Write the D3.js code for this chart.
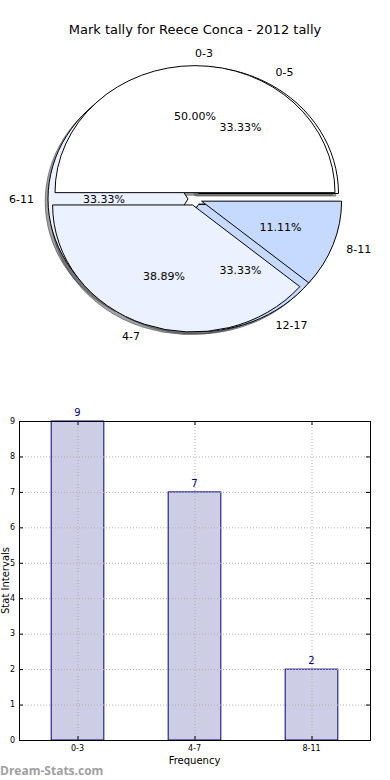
<!DOCTYPE html>
<html>
<head>
<meta charset="utf-8">
<script src="https://cdn.jsdelivr.net/npm/d3@7.9.0/dist/d3.min.js"></script>
<style>
  body { margin: 0; background: #fff; }
  svg { display: block; font-family: "DejaVu Sans", sans-serif; }
</style>
</head>
<body>
<svg width="390" height="780"></svg>
<script>
const title = 'Mark tally for Reece Conca - 2012 tally';

// pie 1 (drawn underneath)
const backLabels = ['0-5', '6-11', '12-17'];
const backValues = [1, 1, 1];
// pie 2 (drawn on top)
const frontLabels = ['0-3', '4-7', '8-11'];
const frontValues = [9, 7, 2];

const sliceColors = ['#ffffff', '#ebf1fe', '#c6daff'];

// bar chart
const barCategories = ['0-3', '4-7', '8-11'];
const barValues = [9, 7, 2];
const yTicks = [0, 1, 2, 3, 4, 5, 6, 7, 8, 9];

const svg = d3.select('svg');

svg.append('text')
  .attr('x', 195).attr('y', 34)
  .attr('text-anchor', 'middle')
  .attr('font-size', 13)
  .text(title);

// ---- pie ----
const cx = 195, cy = 199, rx = 140, ry = 127;
const explode = 0.05;

const pieGen = d3.pie().sort(null).startAngle(0).endAngle(2 * Math.PI);
const unitArc = d3.arc().innerRadius(0).outerRadius(1);

function buildSlices(labels, values) {
  return pieGen(values).map((d, i) => {
    const mid = (d.startAngle + d.endAngle) / 2;
    const ox = cx + Math.cos(mid) * explode * rx;
    const oy = cy - Math.sin(mid) * explode * ry;
    return {
      label: labels[i],
      pct: (d.value / d3.sum(values) * 100).toFixed(2) + '%',
      color: sliceColors[i],
      mid: mid,
      ox: ox, oy: oy,
      // convert ccw-from-east angles to d3's cw-from-north
      path: unitArc({ startAngle: Math.PI / 2 - d.endAngle, endAngle: Math.PI / 2 - d.startAngle })
    };
  });
}

const back = buildSlices(backLabels, backValues);
const front = buildSlices(frontLabels, frontValues);
const all = back.concat(front);

const pieG = svg.append('g');

// shadows first
all.forEach(s => {
  const c = d3.rgb(s.color);
  const sc = d3.rgb(c.r * 0.3, c.g * 0.3, c.b * 0.3);
  pieG.append('path')
    .attr('d', s.path)
    .attr('transform', `translate(${s.ox - 0.02 * rx},${s.oy + 0.02 * ry}) scale(${rx},${ry})`)
    .attr('fill', sc)
    .attr('fill-opacity', 0.5)
    .attr('stroke', sc)
    .attr('stroke-opacity', 0.6)
    .attr('vector-effect', 'non-scaling-stroke');
});

all.forEach(s => {
  pieG.append('path')
    .attr('d', s.path)
    .attr('transform', `translate(${s.ox},${s.oy}) scale(${rx},${ry})`)
    .attr('fill', s.color)
    .attr('stroke', '#000')
    .attr('stroke-width', 1)
    .attr('vector-effect', 'non-scaling-stroke');
});

all.forEach(s => {
  const c = Math.cos(s.mid), sn = Math.sin(s.mid);
  svg.append('text')
    .attr('x', s.ox + 1.1 * c * rx)
    .attr('y', s.oy - 1.1 * sn * ry)
    .attr('dy', '0.35em')
    .attr('text-anchor', c > 0 ? 'start' : 'end')
    .attr('font-size', 11)
    .text(s.label);
  svg.append('text')
    .attr('x', s.ox + 0.6 * c * rx)
    .attr('y', s.oy - 0.6 * sn * ry)
    .attr('dy', '0.35em')
    .attr('text-anchor', 'middle')
    .attr('font-size', 11)
    .text(s.pct);
});

// ---- bar chart ----
const plotL = 19, plotR = 370, plotT = 421, plotB = 740;
const x = d3.scalePoint().domain(barCategories).range([plotL, plotR]).padding(0.5);
const y = d3.scaleLinear().domain([0, 9]).range([plotB, plotT]);
const bw = x.step() * 0.45;

const barG = svg.append('g');

barG.selectAll('rect.bar')
  .data(barValues)
  .join('rect')
  .attr('class', 'bar')
  .attr('x', (d, i) => x(barCategories[i]) - bw / 2)
  .attr('y', d => y(d))
  .attr('width', bw)
  .attr('height', d => y(0) - y(d))
  .attr('fill', '#cdcde5')
  .attr('stroke', '#000080')
  .attr('stroke-width', 1);

// grid (over bars)
barG.selectAll('line.hgrid')
  .data(yTicks)
  .join('line')
  .attr('class', 'hgrid')
  .attr('x1', plotL).attr('x2', plotR)
  .attr('y1', d => y(d) + 0.5).attr('y2', d => y(d) + 0.5)
  .attr('stroke', '#b0b0b0').attr('stroke-dasharray', '1,2');
barG.selectAll('line.vgrid')
  .data(barCategories)
  .join('line')
  .attr('class', 'vgrid')
  .attr('x1', d => x(d) + 0.5).attr('x2', d => x(d) + 0.5)
  .attr('y1', plotT).attr('y2', plotB)
  .attr('stroke', '#b0b0b0').attr('stroke-dasharray', '1,2');

// inward ticks
barG.selectAll('line.ytl')
  .data(yTicks)
  .join('line')
  .attr('class', 'ytl')
  .attr('x1', plotL).attr('x2', plotL + 4)
  .attr('y1', d => y(d) + 0.5).attr('y2', d => y(d) + 0.5)
  .attr('stroke', '#000');
barG.selectAll('line.ytr')
  .data(yTicks)
  .join('line')
  .attr('class', 'ytr')
  .attr('x1', plotR - 4).attr('x2', plotR)
  .attr('y1', d => y(d) + 0.5).attr('y2', d => y(d) + 0.5)
  .attr('stroke', '#000');
barG.selectAll('line.xtb')
  .data(barCategories)
  .join('line')
  .attr('class', 'xtb')
  .attr('x1', d => x(d) + 0.5).attr('x2', d => x(d) + 0.5)
  .attr('y1', plotB).attr('y2', plotB - 4)
  .attr('stroke', '#000');
barG.selectAll('line.xtt')
  .data(barCategories)
  .join('line')
  .attr('class', 'xtt')
  .attr('x1', d => x(d) + 0.5).attr('x2', d => x(d) + 0.5)
  .attr('y1', plotT).attr('y2', plotT + 4)
  .attr('stroke', '#000');

barG.append('rect')
  .attr('x', plotL + 0.5).attr('y', plotT + 0.5)
  .attr('width', plotR - plotL).attr('height', plotB - plotT)
  .attr('fill', 'none').attr('stroke', '#000');

barG.selectAll('text.yt')
  .data(yTicks)
  .join('text')
  .attr('class', 'yt')
  .attr('x', plotL - 4)
  .attr('y', d => y(d))
  .attr('dy', '0.35em')
  .attr('text-anchor', 'end')
  .attr('font-size', 8)
  .text(d => d);

barG.selectAll('text.xt')
  .data(barCategories)
  .join('text')
  .attr('class', 'xt')
  .attr('x', d => x(d))
  .attr('y', plotB + 11)
  .attr('text-anchor', 'middle')
  .attr('font-size', 8)
  .text(d => d);

barG.selectAll('text.val')
  .data(barValues)
  .join('text')
  .attr('class', 'val')
  .attr('x', (d, i) => x(barCategories[i]))
  .attr('y', d => y(d) - 5)
  .attr('text-anchor', 'middle')
  .attr('font-size', 10)
  .attr('fill', '#000080')
  .text(d => d);

svg.append('text')
  .attr('transform', `translate(9,${(plotT + plotB) / 2}) rotate(-90)`)
  .attr('text-anchor', 'middle')
  .attr('font-size', 10)
  .text('Stat Intervals');

svg.append('text')
  .attr('x', (plotL + plotR) / 2).attr('y', 764)
  .attr('text-anchor', 'middle')
  .attr('font-size', 10)
  .text('Frequency');

svg.append('text')
  .attr('x', 0).attr('y', 775)
  .attr('font-family', '"Open Sans", sans-serif')
  .attr('font-size', 12)
  .attr('font-weight', 'bold')
  .attr('fill', '#a0a0a0')
  .text('Dream-Stats.com');
</script>
</body>
</html>
